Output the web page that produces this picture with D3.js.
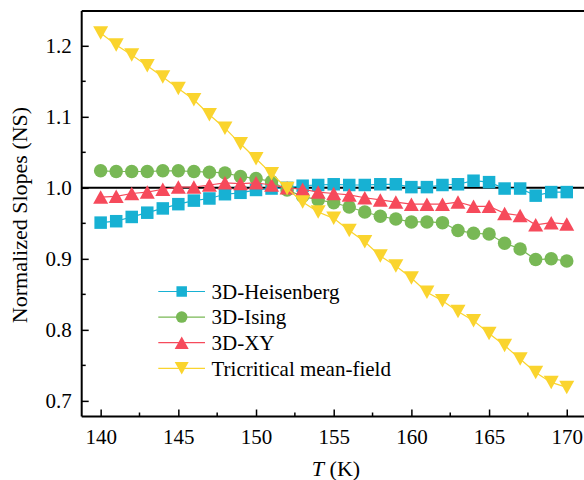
<!DOCTYPE html>
<html><head><meta charset="utf-8">
<script src="https://cdn.jsdelivr.net/npm/d3@7"></script>
</head><body style="margin:0;background:#fff">
<svg id="c" width="584" height="480" style="display:block"></svg>
<script>
const temps = [140,141,142,143,144,145,146,147,148,149,150,151,152,153,154,155,156,157,158,159,160,161,162,163,164,165,166,167,168,169,170];
const heisenberg = [0.951,0.953,0.959,0.965,0.971,0.977,0.982,0.985,0.991,0.993,0.997,0.999,1.000,1.003,1.004,1.005,1.004,1.004,1.005,1.005,1.001,1.001,1.004,1.005,1.010,1.008,0.999,0.999,0.989,0.994,0.994];
const ising = [1.024,1.023,1.023,1.023,1.024,1.024,1.023,1.022,1.021,1.016,1.013,1.009,0.997,0.988,0.983,0.979,0.973,0.966,0.960,0.956,0.952,0.952,0.951,0.940,0.936,0.935,0.922,0.914,0.899,0.900,0.897];
const xy = [0.987,0.988,0.992,0.994,0.998,1.001,1.001,1.004,1.007,1.006,1.007,1.004,1.000,0.998,0.994,0.992,0.990,0.986,0.983,0.980,0.977,0.977,0.977,0.980,0.974,0.974,0.964,0.961,0.948,0.951,0.949];
const tricritical = [1.218,1.201,1.187,1.172,1.156,1.140,1.124,1.103,1.084,1.062,1.041,1.020,0.999,0.980,0.966,0.957,0.940,0.924,0.904,0.890,0.873,0.853,0.841,0.826,0.813,0.795,0.778,0.759,0.740,0.726,0.719];
const seriesNames = ["3D-Heisenberg","3D-Ising","3D-XY","Tricritical mean-field"];
const xTicks = [140,145,150,155,160,165,170];
const yTicks = [0.7,0.8,0.9,1.0,1.1,1.2];

const colors = ["#17b1d3","#78b855","#f64a5b","#fad42e"];
const shapes = ["square","circle","up","down"];
const seriesVals = [heisenberg, ising, xy, tricritical];
const FONT = '"Liberation Serif"';

const svg = d3.select("#c");
const L = 81.7, R = 584, T = 11, B = 416.5;
const x = d3.scaleLinear().domain([138.78, 171.11]).range([L, R]);
const y = d3.scaleLinear().domain([0.678, 1.249]).range([B, T]);

function marker(g, shape, color, s) {
  if (shape === "square") {
    g.append("rect").attr("x", -s/2).attr("y", -s/2).attr("width", s).attr("height", s).attr("fill", color);
  } else if (shape === "circle") {
    g.append("circle").attr("r", s/2).attr("fill", color);
  } else {
    const w = s, h = s*0.9;
    const p = shape === "up"
      ? `M0,${-h/2}L${w/2},${h/2}L${-w/2},${h/2}Z`
      : `M0,${h/2}L${w/2},${-h/2}L${-w/2},${-h/2}Z`;
    g.append("path").attr("d", p).attr("fill", color);
  }
}
const sizes = {square:12.5, circle:13.5, up:15, down:15};
const legSizes = {square:10.5, circle:11.5, up:14, down:14};

svg.append("line").attr("x1", L).attr("x2", R).attr("y1", y(1.0)).attr("y2", y(1.0))
  .attr("stroke", "#000").attr("stroke-width", 2);

seriesVals.forEach((vals, i) => {
  const pts = temps.map((t, j) => [t, vals[j]]);
  svg.append("path").datum(pts)
    .attr("d", d3.line().x(d => x(d[0])).y(d => y(d[1])))
    .attr("fill", "none").attr("stroke", colors[i]).attr("stroke-width", 1.2);
  const g = svg.append("g");
  pts.forEach(d => {
    const m = g.append("g").attr("transform", `translate(${x(d[0])},${y(d[1])})`);
    marker(m, shapes[i], colors[i], sizes[shapes[i]]);
  });
});

const xAxis = d3.axisBottom(x).tickValues(xTicks).tickFormat(d3.format("d")).tickSize(-7).tickPadding(13);
const gx = svg.append("g").attr("transform", `translate(0,${B})`).call(xAxis);
const yAxis = d3.axisLeft(y).tickValues(yTicks).tickFormat(d3.format(".1f")).tickSize(-7).tickPadding(10);
const gy = svg.append("g").attr("transform", `translate(${L},0)`).call(yAxis);
[gx, gy].forEach(g => {
  g.attr("font-family", null).attr("font-size", null);
  g.select(".domain").remove();
  g.selectAll(".tick line").attr("stroke", "#000").attr("stroke-width", 1.5);
  g.selectAll("text").style("font-family", FONT).style("font-size", "21px").attr("fill", "#000");
});
const xMinor = xTicks.slice(0, -1).map(v => v + 2.5);
svg.append("g").selectAll("line").data(xMinor).join("line")
  .attr("x1", d => x(d)).attr("x2", d => x(d)).attr("y1", B).attr("y2", B - 4)
  .attr("stroke", "#000").attr("stroke-width", 1.5);
const yMinor = [0.75,0.85,0.95,1.05,1.15];
svg.append("g").selectAll("line").data(yMinor).join("line")
  .attr("y1", d => y(d)).attr("y2", d => y(d)).attr("x1", L).attr("x2", L + 4)
  .attr("stroke", "#000").attr("stroke-width", 1.5);
svg.append("line").attr("x1", L).attr("x2", R).attr("y1", B).attr("y2", B).attr("stroke", "#000").attr("stroke-width", 2);
svg.append("line").attr("x1", L).attr("x2", L).attr("y1", T).attr("y2", B).attr("stroke", "#000").attr("stroke-width", 2);
svg.append("line").attr("x1", L).attr("x2", R).attr("y1", T).attr("y2", T).attr("stroke", "#000").attr("stroke-width", 2);

const xt = svg.append("text").attr("x", 336).attr("y", 476).attr("text-anchor", "middle")
  .style("font-family", FONT).style("font-size", "22px");
xt.append("tspan").style("font-style", "italic").text("T");
xt.append("tspan").text(" (K)");
svg.append("text").attr("transform", "translate(26.5,215) rotate(-90)")
  .attr("text-anchor", "middle").style("font-family", FONT).style("font-size", "22px").text("Normalized Slopes (NS)");

seriesNames.forEach((name, i) => {
  const yy = 291.5 + i * 25.6;
  const g = svg.append("g").attr("transform", `translate(0,${yy})`);
  g.append("line").attr("x1", 158.3).attr("x2", 205).attr("stroke", colors[i]).attr("stroke-width", 1.2);
  const m = g.append("g").attr("transform", "translate(181.7,0)");
  marker(m, shapes[i], colors[i], legSizes[shapes[i]]);
  g.append("text").attr("x", 211.5).attr("y", 0).attr("dy", "0.35em")
    .style("font-family", FONT).style("font-size", "21px").text(name);
});
</script>
</body></html>
